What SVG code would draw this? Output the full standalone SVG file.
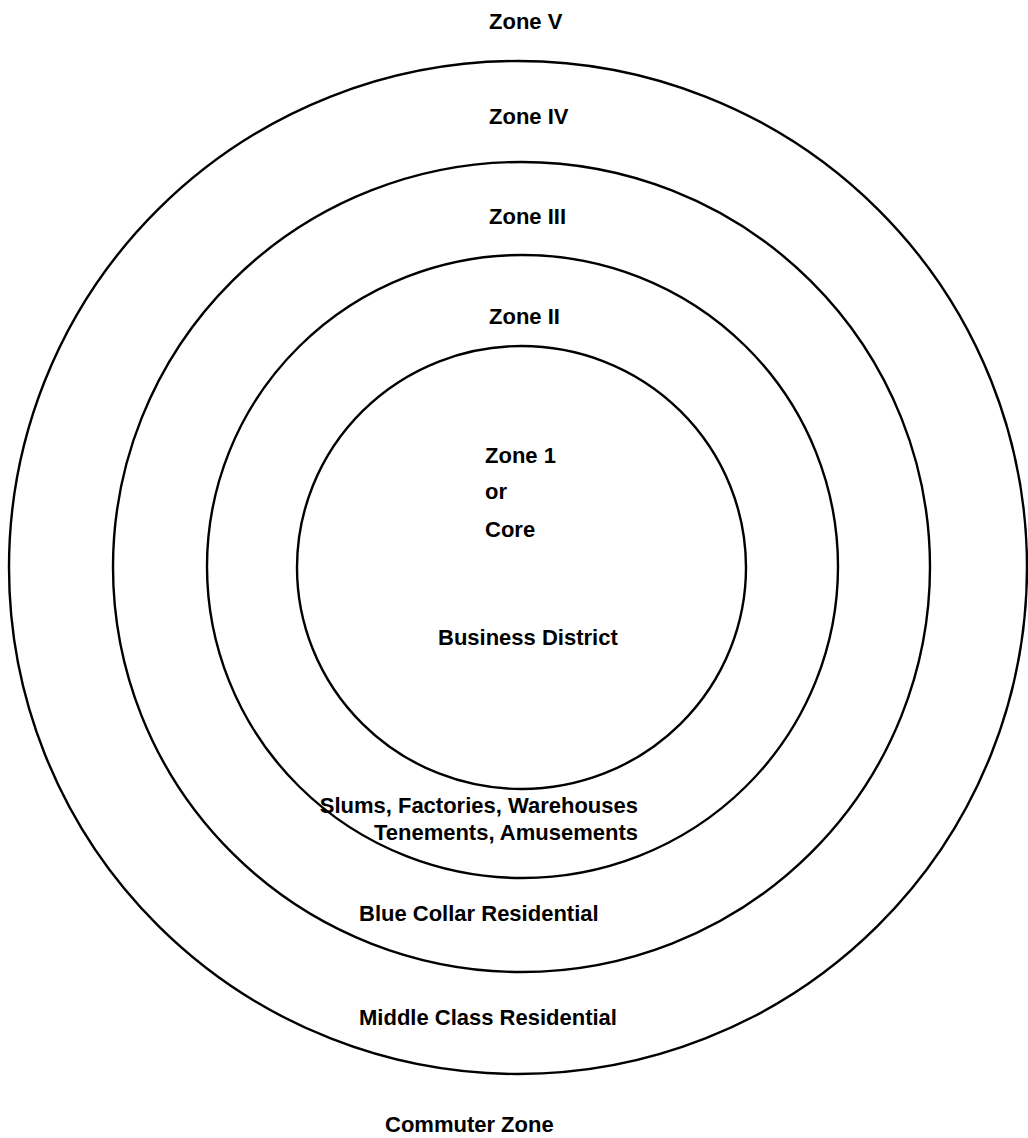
<svg xmlns="http://www.w3.org/2000/svg" width="1028" height="1138" viewBox="0 0 1028 1138">
<style>
.ring{fill:none;stroke:#000;stroke-width:2.4}
.lbl{font-family:"Liberation Sans",Arial,sans-serif;font-weight:bold;font-size:22px;fill:#000}
</style>
<rect width="1028" height="1138" fill="#fff"/>
<g id="zone5">
<ellipse class="ring" cx="518" cy="567.5" rx="509" ry="506.5"/>
<text class="lbl" x="489" y="29">Zone V</text>
<text class="lbl" x="385" y="1132">Commuter Zone</text>
</g>
<g id="zone4">
<ellipse class="ring" cx="521.5" cy="567" rx="408.5" ry="405"/>
<text class="lbl" x="489" y="124">Zone IV</text>
<text class="lbl" x="359" y="1025">Middle Class Residential</text>
</g>
<g id="zone3">
<ellipse class="ring" cx="522.5" cy="566.5" rx="315.5" ry="311.5"/>
<text class="lbl" x="489" y="224">Zone III</text>
<text class="lbl" x="359" y="921">Blue Collar Residential</text>
</g>
<g id="zone2">
<ellipse class="ring" cx="521.5" cy="567.5" rx="224.5" ry="221.5"/>
<text class="lbl" x="489" y="324">Zone II</text>
<text class="lbl" x="638" y="813" text-anchor="end">Slums, Factories, Warehouses</text>
<text class="lbl" x="638" y="840" text-anchor="end">Tenements, Amusements</text>
</g>
<g id="zone1">
<text class="lbl" x="485" y="463">Zone 1</text>
<text class="lbl" x="485" y="499">or</text>
<text class="lbl" x="485" y="537">Core</text>
<text class="lbl" x="438" y="645">Business District</text>
</g>
<g id="connectors"/>
</svg>
